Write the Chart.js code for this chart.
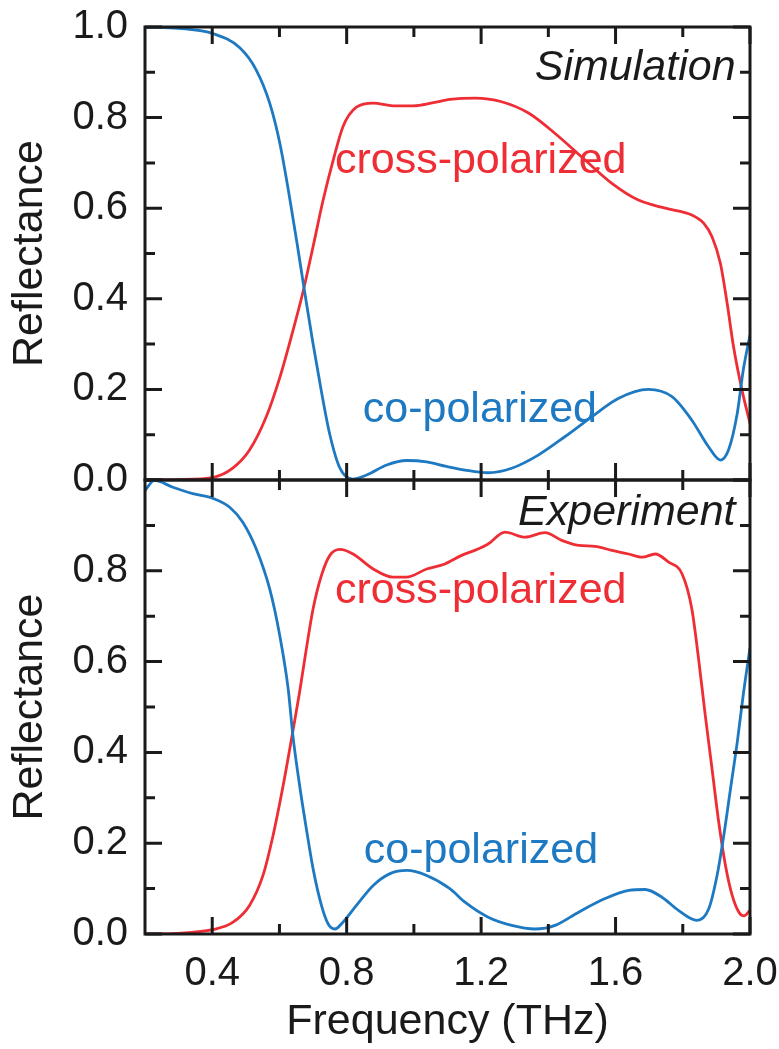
<!DOCTYPE html>
<html>
<head>
<meta charset="utf-8">
<title>Reflectance</title>
<script src="https://cdn.jsdelivr.net/npm/chart.js"></script>
<style>
  body { margin: 0; background: #fff; }
  #wrap { position: relative; width: 779px; height: 1049px; }
  canvas { position: absolute; left: 0; top: 0; }
</style>
</head>
<body>
<div id="wrap">
  <canvas id="simChart" width="779" height="1049"></canvas>
  <canvas id="expChart" width="779" height="1049"></canvas>
</div>
<script>
// simulation, co-polarized (blue)
const simCoFreq = [0.2, 0.3, 0.404, 0.482, 0.531, 0.571, 0.601, 0.631, 0.654, 0.675, 0.699, 0.725, 0.75, 0.78, 0.818, 0.859, 0.919, 0.978, 1.038, 1.097, 1.152, 1.22, 1.291, 1.37, 1.45, 1.53, 1.608, 1.697, 1.768, 1.827, 1.876, 1.912, 1.936, 1.962, 1.98, 2.0];
const simCoRefl = [1.0, 0.997, 0.985, 0.954, 0.905, 0.832, 0.744, 0.62, 0.515, 0.415, 0.305, 0.195, 0.1, 0.026, 0.002, 0.011, 0.033, 0.043, 0.04, 0.03, 0.022, 0.016, 0.026, 0.055, 0.096, 0.14, 0.18, 0.2, 0.184, 0.132, 0.074, 0.044, 0.066, 0.147, 0.243, 0.32];

// simulation, cross-polarized (red)
const simCrossFreq = [0.2, 0.3, 0.404, 0.461, 0.511, 0.561, 0.601, 0.636, 0.67, 0.7, 0.73, 0.76, 0.789, 0.829, 0.879, 0.938, 0.998, 1.058, 1.107, 1.182, 1.261, 1.341, 1.42, 1.51, 1.589, 1.668, 1.748, 1.827, 1.862, 1.887, 1.912, 1.932, 1.951, 1.976, 2.0];
const simCrossRefl = [0.0, 0.001, 0.006, 0.026, 0.066, 0.14, 0.226, 0.318, 0.415, 0.515, 0.618, 0.706, 0.78, 0.823, 0.832, 0.826, 0.826, 0.833, 0.84, 0.843, 0.835, 0.81, 0.765, 0.706, 0.655, 0.618, 0.6, 0.585, 0.567, 0.537, 0.478, 0.39, 0.294, 0.199, 0.125];

// experiment, co-polarized (blue)
const expCoFreq = [0.2, 0.228, 0.283, 0.342, 0.404, 0.452, 0.491, 0.531, 0.571, 0.601, 0.626, 0.64, 0.66, 0.68, 0.7, 0.725, 0.745, 0.765, 0.789, 0.829, 0.879, 0.929, 0.979, 1.038, 1.107, 1.152, 1.221, 1.291, 1.36, 1.42, 1.49, 1.569, 1.639, 1.688, 1.738, 1.787, 1.842, 1.877, 1.902, 1.922, 1.942, 1.962, 1.981, 2.0];
const expCoRefl = [0.977, 0.999, 0.984, 0.97, 0.959, 0.94, 0.907, 0.848, 0.76, 0.657, 0.54, 0.437, 0.327, 0.232, 0.144, 0.063, 0.022, 0.011, 0.026, 0.063, 0.107, 0.133, 0.14, 0.129, 0.1, 0.07, 0.037, 0.019, 0.011, 0.019, 0.048, 0.078, 0.096, 0.098, 0.081, 0.052, 0.03, 0.055, 0.129, 0.217, 0.32, 0.422, 0.533, 0.63];

// experiment, cross-polarized (red)
const expCrossFreq = [0.2, 0.283, 0.404, 0.462, 0.511, 0.551, 0.581, 0.611, 0.636, 0.66, 0.68, 0.7, 0.725, 0.75, 0.78, 0.819, 0.879, 0.938, 0.978, 1.038, 1.092, 1.142, 1.191, 1.221, 1.271, 1.331, 1.39, 1.44, 1.49, 1.539, 1.589, 1.639, 1.679, 1.718, 1.758, 1.798, 1.827, 1.847, 1.867, 1.887, 1.907, 1.927, 1.947, 1.967, 1.982, 2.0];
const expCrossRefl = [0, 0.001, 0.01, 0.026, 0.063, 0.129, 0.217, 0.327, 0.43, 0.533, 0.628, 0.716, 0.79, 0.834, 0.847, 0.837, 0.804, 0.786, 0.786, 0.804, 0.815, 0.834, 0.848, 0.859, 0.885, 0.874, 0.884, 0.867, 0.856, 0.854, 0.845, 0.837, 0.83, 0.837, 0.819, 0.793, 0.716, 0.606, 0.481, 0.364, 0.246, 0.151, 0.085, 0.048, 0.04, 0.052];

// axis ticks
const xMajor = [0.4, 0.8, 1.2, 1.6, 2.0];
const xMinor = [0.6, 1.0, 1.4, 1.8];
const yMajor = [0, 0.2, 0.4, 0.6, 0.8, 1.0];
const yMinor = [0.1, 0.3, 0.5, 0.7, 0.9];
const simYLabels = [0, 0.2, 0.4, 0.6, 0.8, 1.0];
const expYLabels = [0, 0.2, 0.4, 0.6, 0.8];

const RED = '#ee2d35';
const BLUE = '#1d79c2';
const INK = '#1a1a1a';
const FONT = "'Liberation Sans', Arial, sans-serif";

Chart.defaults.font.family = FONT;
Chart.defaults.color = INK;

function pts(xs, ys) {
    return xs.map((x, i) => ({ x: x, y: ys[i] }));
}

function line(data, color) {
    return {
        data: data,
        borderColor: color,
        borderWidth: 2.8,
        pointRadius: 0,
        fill: false,
        cubicInterpolationMode: 'monotone'
    };
}

// box around the plot, ticks pointing inwards on all four sides
const framePlugin = {
    id: 'frame',
    afterDraw(chart) {
        const { ctx, chartArea: a, scales: { x, y } } = chart;
        ctx.save();
        ctx.strokeStyle = INK;
        ctx.lineWidth = 3;
        ctx.lineCap = 'butt';
        ctx.beginPath();
        const tick = (len, v, isX) => {
            if (isX) {
                const px = x.getPixelForValue(v);
                ctx.moveTo(px, a.top); ctx.lineTo(px, a.top + len);
                ctx.moveTo(px, a.bottom); ctx.lineTo(px, a.bottom - len);
            } else {
                const py = y.getPixelForValue(v);
                ctx.moveTo(a.left, py); ctx.lineTo(a.left + len, py);
                ctx.moveTo(a.right, py); ctx.lineTo(a.right - len, py);
            }
        };
        xMajor.forEach(v => tick(17, v, true));
        xMinor.forEach(v => tick(10, v, true));
        yMajor.forEach(v => tick(17, v, false));
        yMinor.forEach(v => tick(10, v, false));
        ctx.stroke();
        ctx.strokeRect(a.left, a.top, a.right - a.left, a.bottom - a.top);
        ctx.restore();
    }
};

// text labels placed in data coordinates
const notesPlugin = {
    id: 'notes',
    afterDraw(chart, args, opts) {
        const { ctx, scales: { x, y } } = chart;
        ctx.save();
        ctx.textBaseline = 'alphabetic';
        (opts.items || []).forEach(n => {
            ctx.font = (n.italic ? 'italic ' : '') + '43px ' + FONT;
            ctx.fillStyle = n.color;
            ctx.textAlign = n.align || 'left';
            ctx.fillText(n.text, x.getPixelForValue(n.x), y.getPixelForValue(n.y));
        });
        ctx.restore();
    }
};

function makePanel(id, datasets, padding, showX, yLabels, notes) {
    return new Chart(document.getElementById(id), {
        type: 'line',
        data: { datasets: datasets },
        options: {
            responsive: false,
            animation: false,
            layout: { padding: padding },
            plugins: {
                legend: { display: false },
                tooltip: { enabled: false },
                notes: { items: notes }
            },
            scales: {
                x: {
                    type: 'linear',
                    min: 0.2,
                    max: 2.0,
                    display: showX,
                    afterFit: s => {
                        s.height = showX ? 115 : 0;
                        s.paddingLeft = 0;
                        s.paddingRight = 0;
                    },
                    afterBuildTicks: s => { s.ticks = xMajor.map(v => ({ value: v })); },
                    grid: { display: false, drawTicks: false },
                    border: { display: false },
                    ticks: {
                        font: { size: 40 },
                        color: INK,
                        padding: 16,
                        maxRotation: 0,
                        autoSkip: false,
                        callback: v => v.toFixed(1)
                    },
                    title: {
                        display: true,
                        text: 'Frequency (THz)',
                        font: { size: 43 },
                        color: INK,
                        padding: { top: 0, bottom: 1 }
                    }
                },
                y: {
                    min: 0,
                    max: 1,
                    afterFit: s => {
                        s.width = 145;
                        s.paddingTop = 0;
                        s.paddingBottom = 0;
                    },
                    afterBuildTicks: s => { s.ticks = yLabels.map(v => ({ value: v })); },
                    grid: { display: false, drawTicks: false },
                    border: { display: false },
                    ticks: {
                        font: { size: 40 },
                        color: INK,
                        padding: 17,
                        autoSkip: false,
                        callback: v => v.toFixed(1)
                    },
                    title: {
                        display: true,
                        text: 'Reflectance',
                        font: { size: 43 },
                        color: INK,
                        padding: { top: 4, bottom: 0 }
                    }
                }
            }
        },
        plugins: [framePlugin, notesPlugin]
    });
}

makePanel('simChart', [
    line(pts(simCoFreq, simCoRefl), BLUE),
    line(pts(simCrossFreq, simCrossRefl), RED)
], { top: 27, right: 29, bottom: 569, left: 0 }, false, simYLabels, [
    { text: 'Simulation', x: 1.957, y: 0.883, color: INK, italic: true, align: 'right' },
    { text: 'cross-polarized', x: 0.765, y: 0.678, color: RED },
    { text: 'co-polarized', x: 0.848, y: 0.128, color: BLUE }
]);

makePanel('expChart', [
    line(pts(expCoFreq, expCoRefl), BLUE),
    line(pts(expCrossFreq, expCrossRefl), RED)
], { top: 480, right: 29, bottom: 0, left: 0 }, true, expYLabels, [
    { text: 'Experiment', x: 1.957, y: 0.900, color: INK, italic: true, align: 'right' },
    { text: 'cross-polarized', x: 0.765, y: 0.728, color: RED },
    { text: 'co-polarized', x: 0.851, y: 0.157, color: BLUE }
]);
</script>
</body>
</html>
